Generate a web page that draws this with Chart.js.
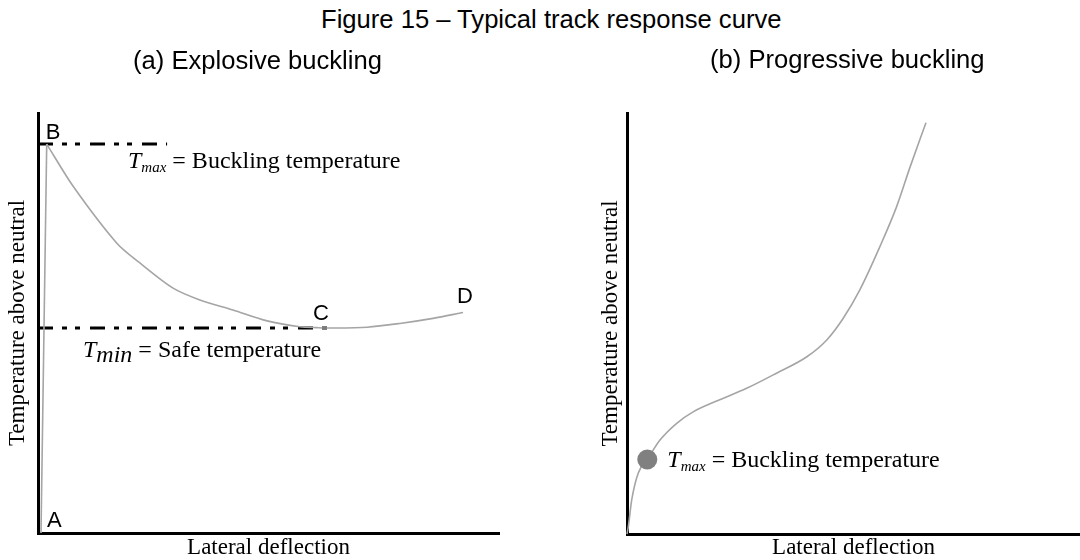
<!DOCTYPE html>
<html>
<head>
<meta charset="utf-8">
<title>Figure 15 – Typical track response curve</title>
<script src="https://cdn.jsdelivr.net/npm/chart.js@4.4.1/dist/chart.umd.min.js"></script>
<style>
  html, body { margin: 0; padding: 0; background: #fff; }
  #wrap { position: relative; width: 1080px; height: 560px; overflow: hidden; }
  #fig-title {
    position: absolute; left: 321px; top: 7px; margin: 0;
    font: 25.6px/25px "Liberation Sans", Arial, sans-serif; color: #000; white-space: nowrap;
  }
  .panel { position: absolute; top: 0; width: 540px; height: 560px; }
  #panelA { left: 0; }
  #panelB { left: 540px; }
</style>
</head>
<body>
<div id="wrap">
  <div id="fig-title">Figure 15 – Typical track response curve</div>
  <div class="panel" id="panelA"><canvas id="chartA" width="540" height="560"></canvas></div>
  <div class="panel" id="panelB"><canvas id="chartB" width="540" height="560"></canvas></div>
</div>
<script>
// ---- (a) Explosive buckling: loading branch A-B, then post-buckling branch B-C-D ----
const explosiveRiseX = [0.65, 1.89];
const explosiveRiseY = [0, 92.6];
const explosiveFallX = [1.89, 7.66, 17.1, 22.1, 29.3, 35.1, 42.3, 49.7, 56.8, 60.5, 64.0, 71.4, 78.5, 85.7, 92.2];
const explosiveFallY = [92.6, 82.5, 69.0, 64.3, 58.3, 55.5, 53.1, 50.5, 49.1, 48.9, 48.8, 49.0, 49.9, 51.1, 52.5];
const tMaxA = 92.6;            // buckling temperature (point B)
const tMinA = 48.8;            // safe temperature (point C)
const tMaxLineEnd = 28.0;      // extent of the T_max reference line
const tMinLineEnd = 64.0;      // extent of the T_min reference line
const pointC = 10;             // index of C on the falling branch

// ---- (b) Progressive buckling ----
const progressiveX = [0, 0.29, 1.04, 2.49, 4.48, 7.28, 10.97, 14.6, 19.8, 26.4, 33.0, 39.7, 44.1, 47.7, 51.4, 55.8, 59.5, 62.5, 66.0];
const progressiveY = [0, 1.73, 8.08, 14.5, 17.7, 22.3, 26.3, 29.0, 31.6, 34.6, 38.2, 42.1, 46.1, 51.2, 58.0, 68.2, 77.7, 87.2, 97.7];
const buckleIndexB = 4;        // T_max marker on the progressive curve

const subtitleA = '(a) Explosive buckling';
const subtitleB = '(b) Progressive buckling';
const xTitle = 'Lateral deflection';
const yTitle = 'Temperature above neutral';

const SANS = '"Liberation Sans", Arial, sans-serif';
const SERIF = '"Liberation Serif", "Times New Roman", serif';
const CURVE = '#a5a5a5';
const dashDot = [15, 9, 5, 8, 5, 10];

const pts = (xs, ys) => xs.map((x, i) => ({ x, y: ys[i] }));

function axes(yWidth, yPad, xHeight) {
  return {
    x: {
      type: 'linear', min: 0, max: 100,
      ticks: { display: false },
      grid: { display: false, drawTicks: false },
      border: { display: true, color: '#000', width: 3 },
      title: { display: true, text: xTitle, color: '#000',
               font: { family: SERIF, size: 23, lineHeight: 1 }, padding: { top: 0, bottom: 1 } },
      afterFit: s => { s.height = xHeight; }
    },
    y: {
      type: 'linear', min: 0, max: 100,
      ticks: { display: false },
      grid: { display: false, drawTicks: false },
      border: { display: true, color: '#000', width: 3 },
      title: { display: true, text: yTitle, color: '#000',
               font: { family: SERIF, size: 23, lineHeight: 1 }, padding: { top: yPad, bottom: 0 } },
      afterFit: s => { s.width = yWidth; }
    }
  };
}

// Italic symbol with subscript, followed by upright text, on one baseline.
function mathLabel(ctx, x, y, sym, sub, subSize, subDrop, rest) {
  ctx.save();
  ctx.fillStyle = '#000';
  ctx.textAlign = 'left';
  ctx.textBaseline = 'alphabetic';
  ctx.font = `italic 24px ${SERIF}`;
  ctx.fillText(sym, x, y);
  x += ctx.measureText(sym).width;
  ctx.font = `italic ${subSize}px ${SERIF}`;
  ctx.fillText(sub, x, y + subDrop);
  x += ctx.measureText(sub).width;
  ctx.font = `24px ${SERIF}`;
  ctx.fillText(rest, x, y);
  ctx.restore();
}

function plainText(ctx, text, x, y, font) {
  ctx.save();
  ctx.fillStyle = '#000';
  ctx.textAlign = 'left';
  ctx.textBaseline = 'alphabetic';
  ctx.font = font;
  ctx.fillText(text, x, y);
  ctx.restore();
}

const labelsA = {
  id: 'labelsA',
  afterDatasetsDraw(chart) {
    const { ctx, chartArea, scales: { x, y } } = chart;
    const px = (vx) => x.getPixelForValue(vx), py = (vy) => y.getPixelForValue(vy);
    const letter = `22px ${SANS}`;
    plainText(ctx, subtitleA, 133, 69, `25.6px ${SANS}`);
    plainText(ctx, 'A', px(explosiveRiseX[0]) + 6, py(explosiveRiseY[0]) - 6, letter);
    plainText(ctx, 'B', px(explosiveRiseX[1]) - 1, py(explosiveRiseY[1]) - 5, letter);
    plainText(ctx, 'C', px(explosiveFallX[pointC]) - 20, py(explosiveFallY[pointC]) - 8, letter);
    const last = explosiveFallX.length - 1;
    plainText(ctx, 'D', px(explosiveFallX[last]) - 6, py(explosiveFallY[last]) - 10, letter);
    mathLabel(ctx, chartArea.left + 90, py(tMaxA) + 24, 'T', 'max', 15, 4, ' = Buckling temperature');
    mathLabel(ctx, chartArea.left + 45, py(tMinA) + 29, 'T', 'min', 24, 5, ' = Safe temperature');
  }
};

const labelsB = {
  id: 'labelsB',
  afterDatasetsDraw(chart) {
    const { ctx, scales: { x, y } } = chart;
    plainText(ctx, subtitleB, 170, 68, `25.6px ${SANS}`);
    const bx = x.getPixelForValue(progressiveX[buckleIndexB]);
    const by = y.getPixelForValue(progressiveY[buckleIndexB]);
    mathLabel(ctx, bx + 20, by + 8, 'T', 'max', 15, 4, ' = Buckling temperature');
  }
};

const common = {
  responsive: false,
  animation: false,
  events: [],
  plugins: { legend: { display: false }, title: { display: false }, tooltip: { enabled: false } }
};

new Chart(document.getElementById('chartA'), {
  type: 'scatter',
  data: {
    datasets: [
      { data: pts(explosiveRiseX, explosiveRiseY), showLine: true, borderColor: CURVE, borderWidth: 1.6,
        pointRadius: 0, tension: 0, clip: false },
      { data: pts(explosiveFallX, explosiveFallY), showLine: true, borderColor: CURVE, borderWidth: 1.6,
        pointRadius: 0, tension: 0.3, clip: false },
      { data: [{ x: 0, y: tMaxA }, { x: tMaxLineEnd, y: tMaxA }], showLine: true, borderColor: '#000',
        borderWidth: 3, borderDash: dashDot, pointRadius: 0, clip: false },
      { data: [{ x: 0, y: tMinA }, { x: tMinLineEnd, y: tMinA }], showLine: true, borderColor: '#000',
        borderWidth: 3, borderDash: dashDot, pointRadius: 0, clip: false }
    ]
  },
  options: Object.assign({}, common, {
    layout: { autoPadding: false, padding: { left: 0, right: 41, top: 113, bottom: 0 } },
    scales: axes(38, 6.5, 27)
  }),
  plugins: [labelsA]
});

new Chart(document.getElementById('chartB'), {
  type: 'scatter',
  data: {
    datasets: [
      { data: [pts(progressiveX, progressiveY)[buckleIndexB]], pointRadius: 10, pointBackgroundColor: '#808080',
        pointBorderWidth: 0, showLine: false, clip: false },
      { data: pts(progressiveX, progressiveY), showLine: true, borderColor: CURVE, borderWidth: 1.6,
        pointRadius: 0, tension: 0.3, cubicInterpolationMode: 'monotone', clip: false }
    ]
  },
  options: Object.assign({}, common, {
    layout: { autoPadding: false, padding: { left: 56, right: 0, top: 113, bottom: 0 } },
    scales: axes(31, 3.5, 26)
  }),
  plugins: [labelsB]
});
</script>
</body>
</html>
